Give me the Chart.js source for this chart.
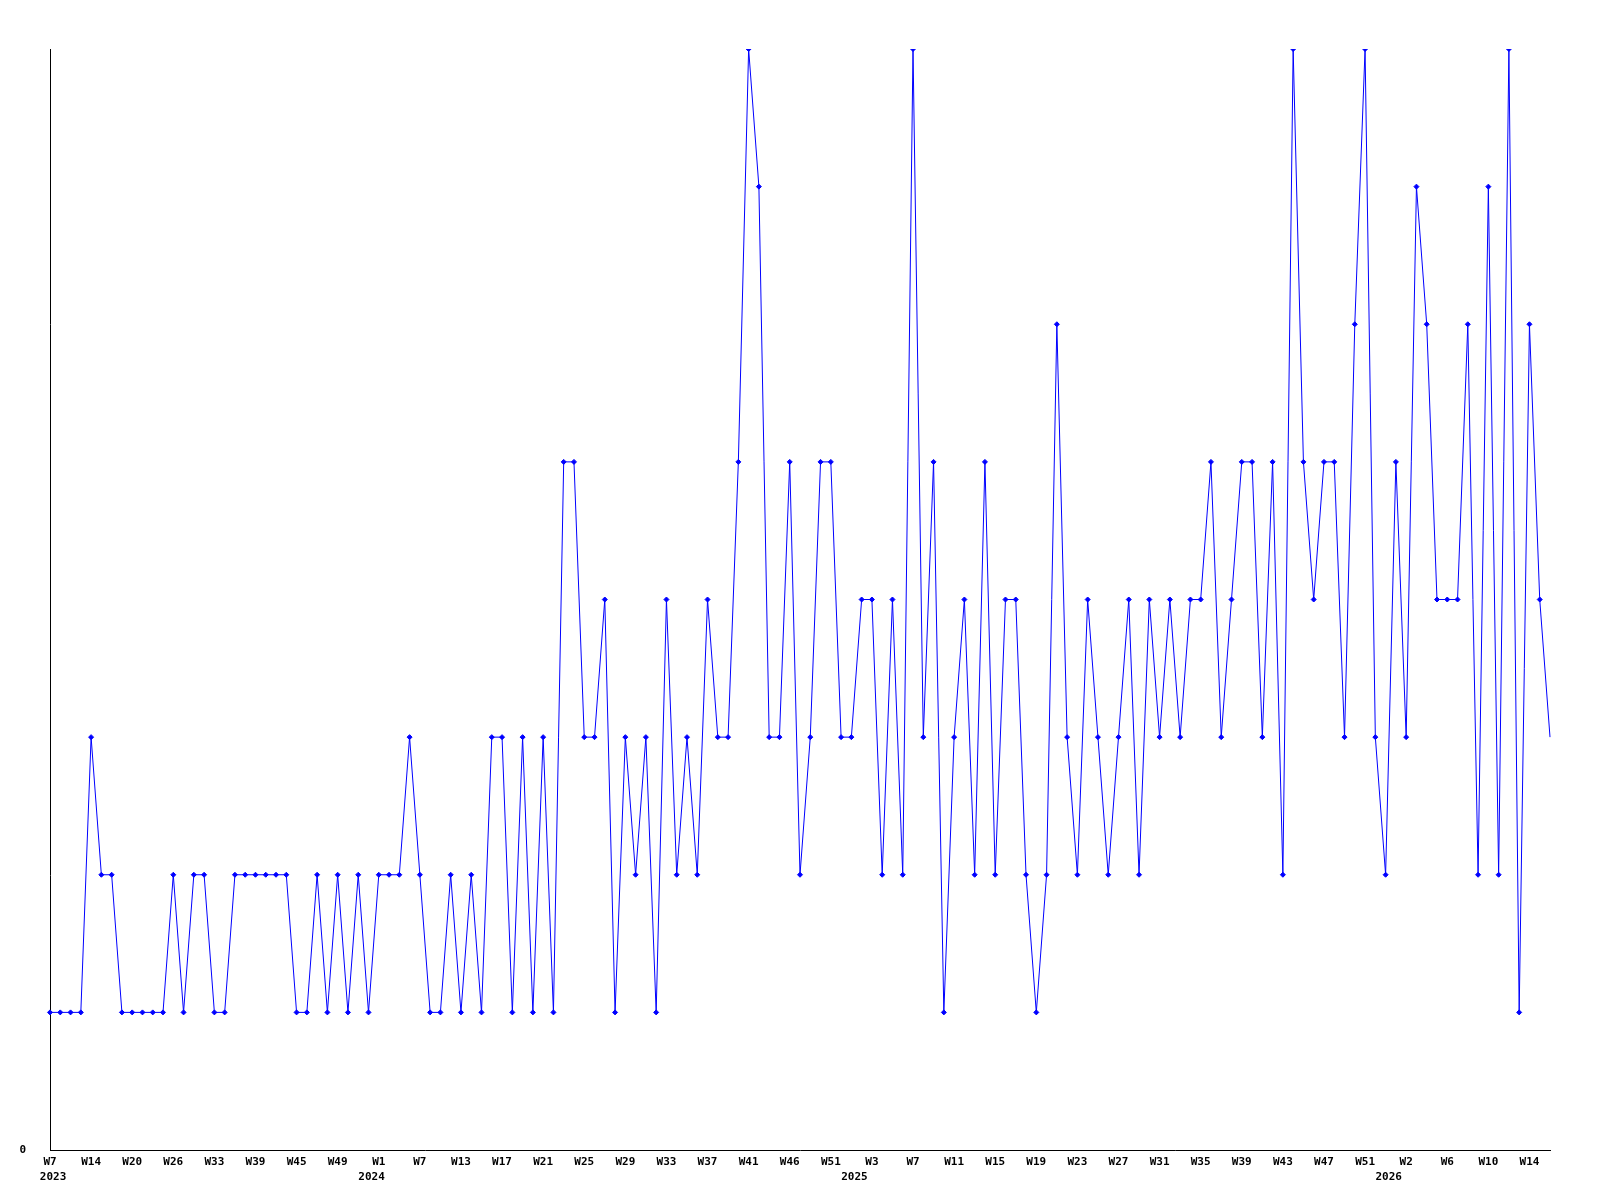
<!DOCTYPE html>
<html>
<head>
<meta charset="utf-8">
<title>Weekly count</title>
<script src="https://cdn.jsdelivr.net/npm/chart.js@4.4.1/dist/chart.umd.min.js"></script>
<style>
  body { margin: 0; background: #fff; }
  canvas { display: block; }
</style>
</head>
<body>
<canvas id="weekChart" width="1600" height="1200"></canvas>
<script>
// one value per week with data (147 points)
const values = [
  1, 1, 1, 1, 3, 2, 2, 1, 1, 1,
  1, 1, 2, 1, 2, 2, 1, 1, 2, 2,
  2, 2, 2, 2, 1, 1, 2, 1, 2, 1,
  2, 1, 2, 2, 2, 3, 2, 1, 1, 2,
  1, 2, 1, 3, 3, 1, 3, 1, 3, 1,
  5, 5, 3, 3, 4, 1, 3, 2, 3, 1,
  4, 2, 3, 2, 4, 3, 3, 5, 8, 7,
  3, 3, 5, 2, 3, 5, 5, 3, 3, 4,
  4, 2, 4, 2, 8, 3, 5, 1, 3, 4,
  2, 5, 2, 4, 4, 2, 1, 2, 6, 3,
  2, 4, 3, 2, 3, 4, 2, 4, 3, 4,
  3, 4, 4, 5, 3, 4, 5, 5, 3, 5,
  2, 8, 5, 4, 5, 5, 3, 6, 8, 3,
  2, 5, 3, 7, 6, 4, 4, 4, 6, 2,
  7, 2, 8, 1, 6, 4, 3
];

// labels shown on the x axis, one every 4 points
const tickWeeks = [
  "W7", "W14", "W20", "W26", "W33", "W39", "W45", "W49",
  "W1", "W7", "W13", "W17", "W21", "W25", "W29", "W33", "W37", "W41", "W46", "W51",
  "W3", "W7", "W11", "W15", "W19", "W23", "W27", "W31", "W35", "W39", "W43", "W47", "W51",
  "W2", "W6", "W10", "W14"
];
const tickEvery = 4;

// year names and the point where each year starts
const years = ["2023", "2024", "2025", "2026"];
const yearStart = [0, 32, 79, 131];

const labels = values.map((v, i) => (i % tickEvery === 0 ? tickWeeks[i / tickEvery] : ""));
// year label sits just before the first week of the year
const yearPos = yearStart.map(s => Math.max(s - 0.7, 0.3));

const tickFont = { family: "DejaVu Sans Mono", size: 11, weight: "bold", lineHeight: 1.36 };

const ctx = document.getElementById("weekChart").getContext("2d");
const weekChart = new Chart(ctx, {
  type: "line",
  data: {
    labels: labels,
    datasets: [
      {
        data: values,
        borderColor: "#0000ff",
        backgroundColor: "#0000ff",
        borderWidth: 1,
        tension: 0,
        fill: false,
        pointStyle: "rectRot",
        // the last (current) week has no marker
        pointRadius: c => (c.dataIndex === values.length - 1 ? 0 : 2.5),
        pointBorderWidth: 1,
        pointBorderColor: "#0000ff",
        pointBackgroundColor: "#0000ff"
      }
    ]
  },
  options: {
    responsive: false,
    animation: false,
    layout: { padding: { top: 49, right: 50, left: 0, bottom: 0 } },
    plugins: {
      legend: { display: false },
      tooltip: { enabled: false }
    },
    scales: {
      x: {
        offset: false,
        weight: 0,
        grid: { display: true, drawOnChartArea: false, drawTicks: false },
        border: { display: true, color: "#000", width: 1 },
        ticks: {
          autoSkip: false,
          maxRotation: 0,
          minRotation: 0,
          padding: 5,
          color: "#000",
          font: tickFont
        },
        afterFit: scale => { scale.height = 18; }
      },
      years: {
        type: "linear",
        axis: "x",
        position: "bottom",
        weight: 1,
        min: 0,
        max: values.length - 1,
        grid: { display: false, drawTicks: false },
        border: { display: false },
        afterBuildTicks: scale => {
          scale.ticks = yearPos.map(v => ({ value: v }));
        },
        ticks: {
          autoSkip: false,
          maxRotation: 0,
          minRotation: 0,
          padding: 2,
          color: "#000",
          font: tickFont,
          callback: (v, i) => years[i]
        },
        afterFit: scale => { scale.height = 32; }
      },
      y: {
        min: 0,
        max: 8,
        grid: { display: true, drawOnChartArea: false, drawTicks: false },
        border: { display: true, color: "#000", width: 1 },
        ticks: {
          stepSize: 8,
          padding: 24,
          color: "#000",
          font: tickFont,
          callback: v => (v === 0 ? "0" : "")
        },
        afterFit: scale => { scale.width = 50; }
      }
    }
  }
});
</script>
</body>
</html>
